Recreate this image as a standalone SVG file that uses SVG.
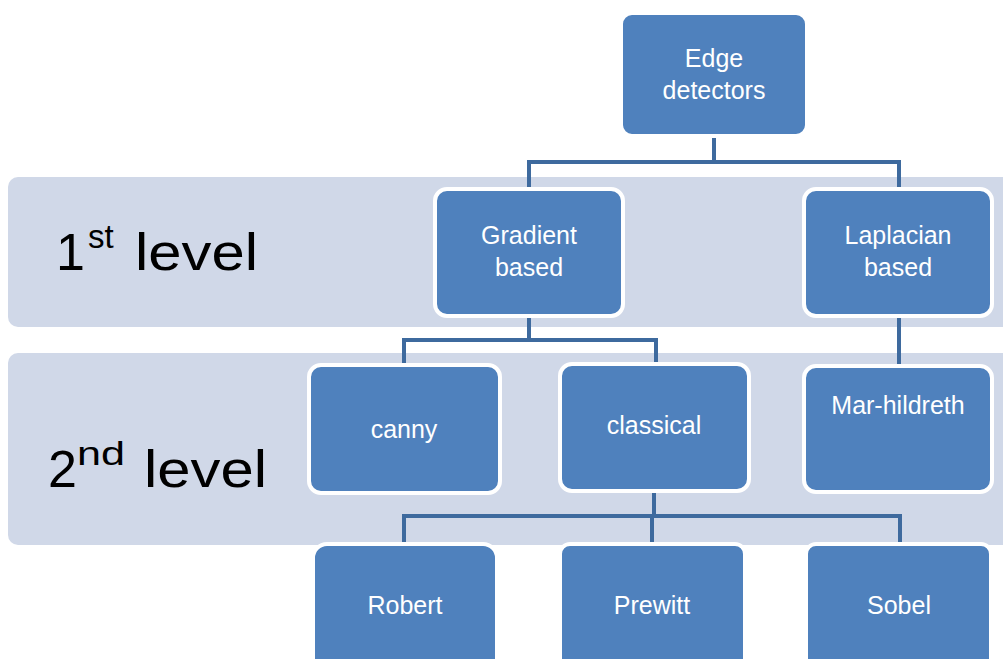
<svg xmlns="http://www.w3.org/2000/svg" width="1003" height="659" viewBox="0 0 1003 659">
<style>
.band{fill:#D0D8E8}
.node rect{fill:#4F81BD;stroke:#FFFFFF;stroke-width:4}
.node text{fill:#FFFFFF;font-family:"Liberation Sans",Arial,sans-serif;font-size:25px;text-anchor:middle}
.conn{fill:none;stroke:#3E6A9E;stroke-width:4}
.lvl{fill:#000000;font-family:"Liberation Sans",Arial,sans-serif;font-size:52px}
.sup{font-size:33px}
</style>
<rect width="1003" height="659" fill="#FFFFFF"/>
<g id="bands">
<rect class="band" x="8" y="177" width="1010" height="150" rx="10"/>
<rect class="band" x="8" y="353" width="1010" height="192" rx="10"/>
<text class="lvl" x="56" y="270">1<tspan class="sup" x="88" y="248">st</tspan><tspan x="135" y="270" textLength="123" lengthAdjust="spacingAndGlyphs">level</tspan></text>
<text class="lvl" x="48" y="487">2<tspan class="sup" x="77" y="465" textLength="48" lengthAdjust="spacingAndGlyphs">nd</tspan><tspan x="144" y="487" textLength="123" lengthAdjust="spacingAndGlyphs">level</tspan></text>
</g>
<g id="connectors">
<path class="conn" d="M714 135V162M529 162H899M529 160V188M899 160V188"/>
<path class="conn" d="M529 316V340M404 340H656M404 338V365M656 338V365"/>
<path class="conn" d="M899 316V366"/>
<path class="conn" d="M654 491V516M404 516H901M404 514V543M652 514V543M900 514V543"/>
</g>
<g id="edge" class="node"><rect x="621" y="13" width="186" height="123" rx="11"/><text x="714" y="67">Edge</text><text x="714" y="99">detectors</text></g>
<g id="gradient" class="node"><rect x="435" y="189" width="188" height="127" rx="12"/><text x="529" y="244">Gradient</text><text x="529" y="276">based</text></g>
<g id="laplacian" class="node"><rect x="804" y="189" width="188" height="127" rx="12"/><text x="898" y="244">Laplacian</text><text x="898" y="276">based</text></g>
<g id="canny" class="node"><rect x="309" y="365" width="191" height="128" rx="12"/><text x="404" y="438">canny</text></g>
<g id="classical" class="node"><rect x="560" y="364" width="189" height="127" rx="12"/><text x="654" y="434">classical</text></g>
<g id="marhildreth" class="node"><rect x="804" y="366" width="188" height="126" rx="12"/><text x="898" y="414">Mar-hildreth</text></g>
<g id="robert" class="node"><rect x="313" y="544" width="184" height="130" rx="14"/><text x="405" y="614">Robert</text></g>
<g id="prewitt" class="node"><rect x="560" y="544" width="185" height="130" rx="10"/><text x="652" y="614">Prewitt</text></g>
<g id="sobel" class="node"><rect x="806" y="544" width="185" height="130" rx="10"/><text x="899" y="614">Sobel</text></g>
</svg>
